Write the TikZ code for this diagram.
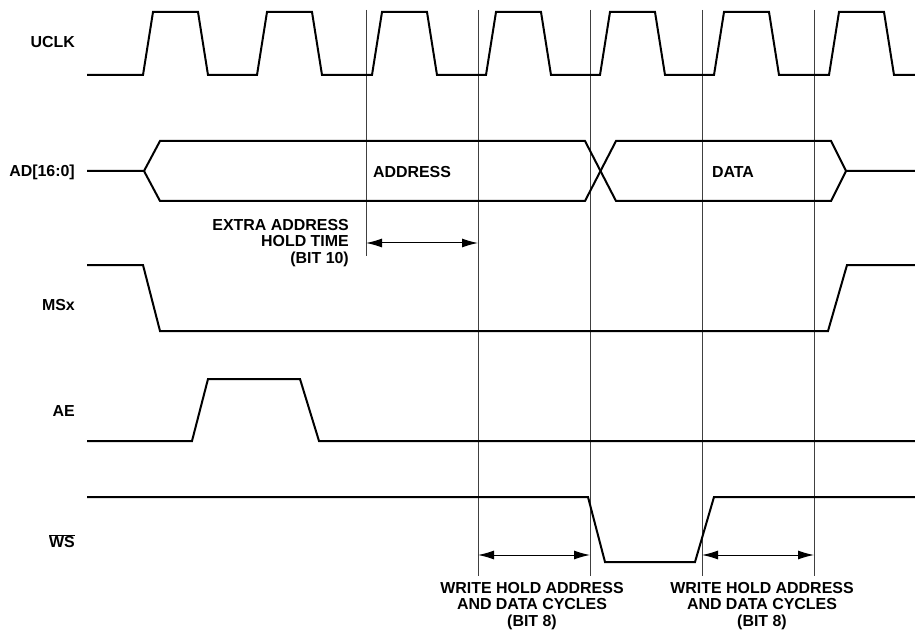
\documentclass[tikz,border=0pt]{standalone}
\usepackage{fontspec}
\setmainfont{Liberation Sans}
\usetikzlibrary{arrows.meta}

\begin{document}
\begin{tikzpicture}[
    x=1bp, y=-1bp,
    font=\fontsize{16}{16.5}\selectfont\bfseries,
    sig/.style={draw=black, line width=2bp, line join=miter},
    mark line/.style={draw=black!75, line width=0.9bp},
    >={Latex[length=16bp,width=9bp]}, % arrowheads
    dimarrow/.style={<->, line width=1bp},
    siglabel/.style={anchor=east, inner sep=0pt},
    note/.style={align=center, inner sep=0pt},
  ]
  \useasboundingbox (0,0) rectangle (915,632);

  % Signal names (left column)
  \node[siglabel] (uclk) at (75,42)  {UCLK};
  \node[siglabel] (ad)   at (75,172) {AD[16:0]};
  \node[siglabel] (msx)  at (75,305) {MSx};
  \node[siglabel] (ae)   at (75,411) {AE};
  \node[siglabel] (ws)   at (75,541) {$\overline{\hbox{WS}}$};

  % Timing marks (vertical lines)
  \coordinate (t1top) at (366,10);  \coordinate (t1bot) at (366,256);
  \coordinate (t2top) at (478,10);  \coordinate (t2bot) at (478,576);
  \coordinate (t3top) at (590,10);  \coordinate (t3bot) at (590,576);
  \coordinate (t4top) at (702,10);  \coordinate (t4bot) at (702,576);
  \coordinate (t5top) at (814,10);  \coordinate (t5bot) at (814,576);
  \foreach \t in {1,...,5}
    \draw[mark line] (t\t top) -- (t\t bot);

  % UCLK
  \draw[sig] (87,75) foreach \r in {143,257,372,486,600,714,829} {
      -- (\r,75) -- (\r+10,12) -- (\r+55,12) -- (\r+65,75)
    } -- (915,75);

  % AD[16:0] bus
  \draw[sig] (87,171) -- (144,171) -- (160,141) -- (585,141) -- (616,201)
    -- (831,201) -- (846,171) -- (915,171);
  \draw[sig] (144,171) -- (160,201) -- (585,201) -- (616,141)
    -- (831,141) -- (846,171);
  \node (address) at (412,172) {ADDRESS};
  \node (data)    at (733,172) {DATA};

  % MSx
  \draw[sig] (87,265) -- (143,265) -- (160,331) -- (828,331) -- (847,265) -- (915,265);

  % AE
  \draw[sig] (87,441) -- (192,441) -- (208,379) -- (300,379) -- (319,441) -- (915,441);

  % WS
  \draw[sig] (87,497) -- (588,497) -- (605,562) -- (695,562) -- (714,497) -- (915,497);

  % Hold time arrows
  \coordinate (xa1) at (366,243); \coordinate (xa2) at (478,243);
  \coordinate (wa1) at (478,555); \coordinate (wa2) at (590,555);
  \coordinate (wb1) at (702,555); \coordinate (wb2) at (814,555);
  \draw[dimarrow] (xa1) -- (xa2);
  \draw[dimarrow] (wa1) -- (wa2);
  \draw[dimarrow] (wb1) -- (wb2);

  % Notes
  \node[note, align=right, anchor=east] (extrahold) at (349,243)
    {EXTRA ADDRESS\\HOLD TIME\\(BIT 10)};
  \node[note] (holdA) at (532,606) {WRITE HOLD ADDRESS\\AND DATA CYCLES\\(BIT 8)};
  \node[note] (holdB) at (762,606) {WRITE HOLD ADDRESS\\AND DATA CYCLES\\(BIT 8)};

\end{tikzpicture}
\end{document}
